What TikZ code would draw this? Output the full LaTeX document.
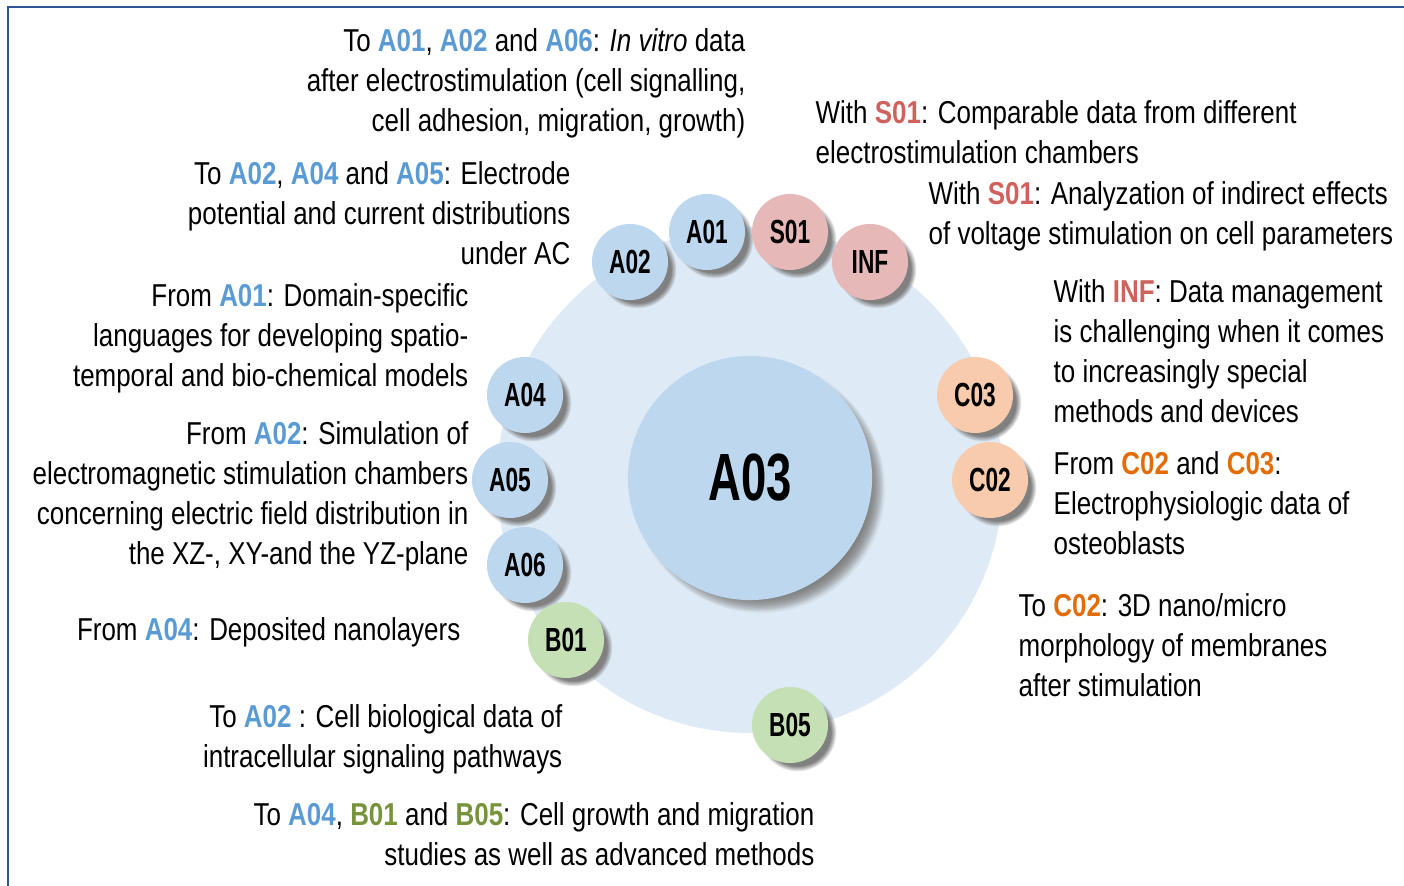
\documentclass[tikz,border=0pt]{standalone}
\usepackage{fontspec}
\setmainfont{Liberation Sans}[FakeStretch=0.82]
\newfontfamily\lblfont{Liberation Sans}[FakeStretch=0.68]
\usetikzlibrary{shadows}
\definecolor{frameblue}{HTML}{2F5597}
\definecolor{ringfill}{HTML}{DEEBF7}
\definecolor{afill}{HTML}{BDD7EE}
\definecolor{sfill}{HTML}{E6B9B8}
\definecolor{bfill}{HTML}{C5E0B4}
\definecolor{cfill}{HTML}{F8CBAD}
\definecolor{atext}{HTML}{5B9BD5}
\definecolor{stext}{HTML}{D0625D}
\definecolor{btext}{HTML}{77933C}
\definecolor{ctext}{HTML}{E36C09}
\newcommand{\ablue}[1]{\textcolor{atext}{\textbf{#1}}}
\newcommand{\sred}[1]{\textcolor{stext}{\textbf{#1}}}
\newcommand{\bgreen}[1]{\textcolor{btext}{\textbf{#1}}}
\newcommand{\corange}[1]{\textcolor{ctext}{\textbf{#1}}}

\begin{document}
\begin{tikzpicture}[x=0.01cm,y=-0.01cm,
  proj/.style={circle,minimum size=0.76cm,inner sep=0pt,
    font=\lblfont\bfseries\fontsize{9.5}{10}\selectfont,
    circular drop shadow={shadow xshift=2pt,shadow yshift=-2pt,shadow scale=1.03}},
  txt/.style={inner sep=0pt,font=\fontsize{9}{11.4}\selectfont},
  txtl/.style={txt,align=right,anchor=east},
  txtr/.style={txt,align=left,anchor=west}]
\useasboundingbox (0,0) rectangle (1404,886);
\draw[frameblue,line width=0.7pt] (8,886) -- (8,7) -- (1404,7);

% ring and centre
\fill[ringfill] (750,480) circle (253);
\node[proj,fill=afill,minimum size=2.44cm,font=\lblfont\bfseries\fontsize{19}{21}\selectfont,
  circular drop shadow={shadow xshift=3pt,shadow yshift=-3pt,shadow scale=1.02}] (a03) at (750,478) {A03};

% partner projects
\node[proj,fill=afill] (a02) at (630,262) {A02};
\node[proj,fill=afill] (a01) at (707,232) {A01};
\node[proj,fill=sfill] (s01) at (790,232) {S01};
\node[proj,fill=sfill] (inf) at (870,262) {INF};
\node[proj,fill=afill] (a04) at (525,395) {A04};
\node[proj,fill=afill] (a05) at (510,480) {A05};
\node[proj,fill=afill] (a06) at (525,565) {A06};
\node[proj,fill=bfill] (b01) at (566,640) {B01};
\node[proj,fill=bfill] (b05) at (790,725) {B05};
\node[proj,fill=cfill] (c03) at (975,395) {C03};
\node[proj,fill=cfill] (c02) at (990,480) {C02};

% left side
\node[txtl] (t1) at (746,83) {To \ablue{A01}, \ablue{A02} and \ablue{A06}: \textit{In vitro} data\\
  after electrostimulation (cell signalling,\\ cell adhesion, migration, growth)};
\node[txtl] (t2) at (571,213) {To \ablue{A02}, \ablue{A04} and \ablue{A05}: Electrode\\
  potential and current distributions\\ under AC};
\node[txtl] (t3) at (469,338) {From \ablue{A01}: Domain-specific\\
  languages for developing spatio-\\ temporal and bio-chemical models};
\node[txtl] (t4) at (469,496) {From \ablue{A02}: Simulation of\\
  electromagnetic stimulation chambers\\ concerning electric field distribution in\\
  the XZ-, XY-and the YZ-plane};
\node[txtl] (t5) at (461,632) {From \ablue{A04}: Deposited nanolayers};
\node[txtl] (t6) at (563,739) {To \ablue{A02} : Cell biological data of\\
  intracellular signaling pathways};
\node[txtl] (t7) at (815,834) {To \ablue{A04}, \bgreen{B01} and \bgreen{B05}: Cell growth and migration\\
  studies as well as advanced methods};

% right side
\node[txtr] (t8) at (815,132) {With \sred{S01}: Comparable data from different\\
  electrostimulation chambers};
\node[txtr] (t9) at (928,216) {With \sred{S01}: Analyzation of indirect effects\\
  of voltage stimulation on cell parameters};
\node[txtr] (t10) at (1053,351) {With \sred{INF}: Data management\\
  is challenging when it comes\\ to increasingly special\\ methods and devices};
\node[txtr] (t11) at (1053,503) {From \corange{C02} and \corange{C03}:\\
  Electrophysiologic data of\\ osteoblasts};
\node[txtr] (t12) at (1018,645) {To \corange{C02}: 3D nano/micro\\
  morphology of membranes\\ after stimulation};
\end{tikzpicture}
\end{document}
